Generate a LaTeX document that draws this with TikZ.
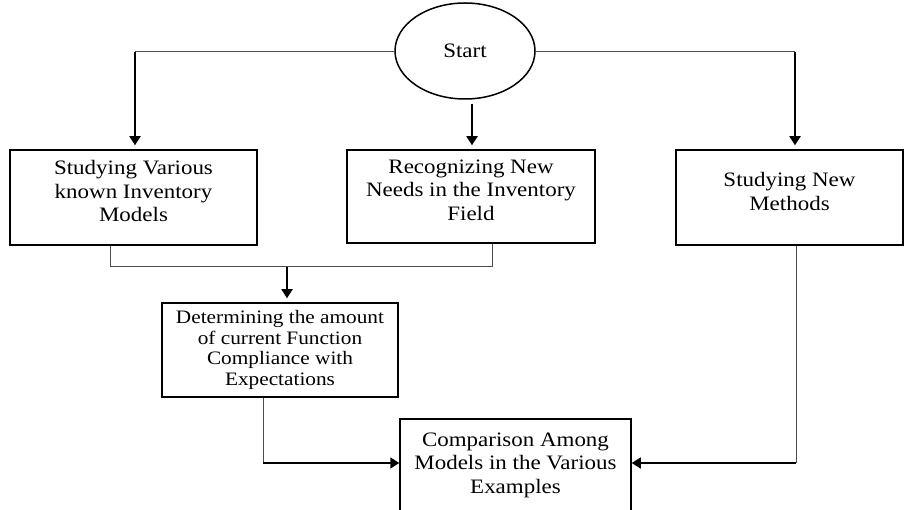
\documentclass[tikz,border=0pt]{standalone}
\usepackage{fontspec}
\setmainfont{Liberation Serif}[FakeStretch=1.12]
\usetikzlibrary{shapes.geometric}
\usetikzlibrary{arrows.meta}
\tikzset{
    every node/.style={
        font=\fontsize{20.5}{23.5}\selectfont},
    procbox/.style={
        draw,
        rectangle,
        line width=1.5pt,
        align=center,
        inner sep=0pt},
    startnode/.style={
        draw,
        ellipse,
        line width=1.5pt,
        minimum width=140pt,
        minimum height=96pt,
        inner sep=0pt},
    link/.style={
        draw,
        line width=1pt,
        gray!60!black},
    feed/.style={
        draw,
        line width=1.8pt,
        -{Triangle[length=9pt,width=11pt]},
        shorten >=4pt}}

\begin{document}
\begin{tikzpicture}[x=1pt,y=-1pt]
    \useasboundingbox (0,0) rectangle (905,510);
    \clip (0,0) rectangle (905,510);

    \node[startnode] (start) at (465,51) {Start};
    \node[procbox,minimum width=247pt,minimum height=95pt,text depth=13pt] (studying) at (133.5,197.5) {Studying Various\\known Inventory\\Models};
    \node[procbox,minimum width=248pt,minimum height=93pt,text depth=13pt] (recog) at (471,196.5) {Recognizing New\\Needs in the Inventory\\Field};
    \node[procbox,minimum width=227pt,minimum height=95pt,text depth=12pt] (methods) at (789.5,197.5) {Studying New\\Methods};
    \node[procbox,minimum width=236pt,minimum height=94pt,font=\fontsize{19}{20.5}\selectfont] (determ) at (280,350) {Determining the amount\\of current Function\\Compliance with\\Expectations};
    \node[procbox,minimum width=231pt,minimum height=92pt] (compar) at (515.5,465) {Comparison Among\\Models in the Various\\Examples};

    % from start
    \coordinate (lt) at (135,52);
    \coordinate (rt) at (795,52);
    \draw[link] (start.west |- lt) -- (lt);
    \draw[feed] (lt) -- (lt |- studying.north);
    \draw[feed] ([yshift=-4pt]start.south -| 472,0) -- (472,0 |- recog.north);
    \draw[link] (start.east |- rt) -- (rt);
    \draw[feed] (rt) -- (rt |- methods.north);

    % join of the two left boxes
    \coordinate (j1) at (110,267);
    \coordinate (j2) at (492,267);
    \coordinate (jm) at (287,267);
    \draw[link] (studying.south -| j1) -- (j1) -- (j2) -- (recog.south -| j2);
    \draw[feed] (jm) -- (jm |- determ.north);

    % into the comparison box
    \coordinate (bl) at (263,463);
    \coordinate (br) at (796,463);
    \draw[link] (determ.south -| bl) -- (bl);
    \draw[feed,shorten >=0pt] (bl) -- (compar.west |- bl);
    \draw[link] (methods.south -| br) -- (br);
    \draw[feed,shorten >=0pt] (br) -- (compar.east |- br);
\end{tikzpicture}
\end{document}
